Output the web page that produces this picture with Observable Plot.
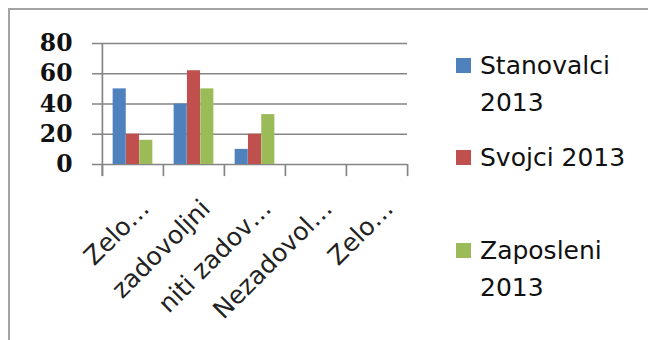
<!DOCTYPE html>
<html>
<head>
<meta charset="utf-8">
<script src="https://cdn.jsdelivr.net/npm/d3@7"></script>
<script src="https://cdn.jsdelivr.net/npm/@observablehq/plot@0.6"></script>
<style>
  html, body { margin: 0; padding: 0; background: #fff; }
  #wrap { position: relative; width: 648px; height: 340px; overflow: hidden; }
  #frame { position: absolute; left: 8px; top: 8px; width: 700px; height: 400px; border: 2px solid #a3a3a3; box-sizing: border-box; }
  #chart { position: absolute; left: 0; top: 0; }
  #chart g[aria-label="y-axis tick label"] text { font-family: "DejaVu Serif", serif; font-weight: bold; }
  #chart g[aria-label="x-axis tick label"] text { font-family: "DejaVu Sans", sans-serif; }
  #legend { position: absolute; left: 456px; top: 0; font-family: "DejaVu Sans", sans-serif; font-size: 25px; color: #111; }
  .sw { position: absolute; left: 0; width: 15px; height: 15px; }
  .lab { position: absolute; left: 24px; white-space: nowrap; }
</style>
</head>
<body>
<div id="wrap">
  <div id="frame"></div>
  <div id="chart"></div>
  <div id="legend"></div>
</div>
<script>
const categories = ["Zelo zadovoljni", "zadovoljni", "niti zadovoljni niti nezadovoljni", "Nezadovoljni", "Zelo nezadovoljni"];
const tickLabels = ["Zelo…", "zadovoljni", "niti zadov…", "Nezadovol…", "Zelo…"];
const seriesNames = ["Stanovalci 2013", "Svojci 2013", "Zaposleni 2013"];
const legendLines = [["Stanovalci", "2013"], ["Svojci 2013"], ["Zaposleni", "2013"]];
const colors = ["#4F81BD", "#C0504D", "#9BBB59"];
const stanovalci = [50, 40, 10, 0, 0];
const svojci = [20, 62, 20, 0, 0];
const zaposleni = [16, 50, 33, 0, 0];
const yTicks = [0, 20, 40, 60, 80];

const seriesValues = [stanovalci, svojci, zaposleni];
const rows = [];
seriesValues.forEach((vals, si) => vals.forEach((v, ci) => rows.push({series: seriesNames[si], si, category: categories[ci], value: v})));

const W = 648, H = 340;
const mL = 101, mR = 241, mT = 43, mB = 176;
const bw = (W - mL - mR) / categories.length;
const barW = 13.3;

const barMarks = seriesNames.map((s, si) => Plot.barY(rows.filter(d => d.si === si && d.value > 0), {
  x: "category", y: "value", fill: colors[si],
  insetLeft: (bw - barW) / 2, insetRight: (bw - barW) / 2,
  dx: (si - 1) * barW
}));

const chart = Plot.plot({
  width: W, height: H,
  marginLeft: mL, marginRight: mR, marginTop: mT, marginBottom: mB,
  style: {background: "transparent", overflow: "visible"},
  x: {type: "band", domain: categories, padding: 0},
  y: {domain: [0, 80]},
  marks: [
    Plot.ruleY(yTicks, {y: d => d, stroke: "#858585", strokeWidth: 1.7, insetLeft: -9}),
    ...barMarks,
    Plot.ruleX(categories, {x: d => d, dx: -bw / 2, y1: 0, y2: -8, stroke: "#858585", strokeWidth: 1.7}),
    Plot.ruleX([categories[0]], {x: d => d, dx: -bw / 2, y1: 80, y2: -8, stroke: "#858585", strokeWidth: 1.7}),
    Plot.ruleX([categories[categories.length - 1]], {x: d => d, dx: bw / 2, y1: 0, y2: -8, stroke: "#858585", strokeWidth: 1.7}),
    Plot.axisY({ticks: yTicks, tickSize: 0, tickPadding: 29, fontSize: 23.5, fill: "#111", label: null}),
    Plot.axisX({tickSize: 0, tickRotate: -45, tickPadding: 40, fontSize: 25, fill: "#222", label: null,
      tickFormat: (d) => tickLabels[categories.indexOf(d)], dx: 12})
  ]
});
document.getElementById("chart").appendChild(chart);

const legend = document.getElementById("legend");
const tops = [58, 150, 243];
legendLines.forEach((lines, i) => {
  const sw = document.createElement("div");
  sw.className = "sw"; sw.style.background = colors[i]; sw.style.top = tops[i] + "px";
  legend.appendChild(sw);
  lines.forEach((t, j) => {
    const l = document.createElement("div");
    l.className = "lab"; l.textContent = t;
    l.style.top = (tops[i] - 11 + j * 37) + "px";
    l.style.lineHeight = "37px";
    legend.appendChild(l);
  });
});
</script>
</body>
</html>
